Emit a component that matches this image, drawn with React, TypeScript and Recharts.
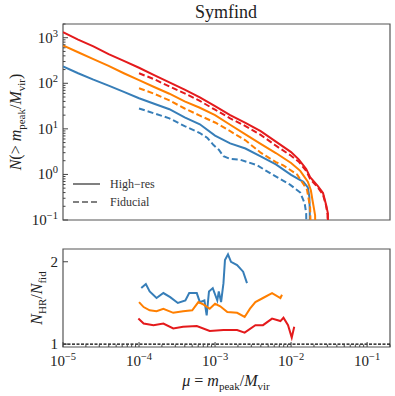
import React from 'react';
import { LineChart, Line, XAxis, YAxis, ReferenceArea, ReferenceLine } from 'recharts';

const RED = '#e41a1c';
const ORANGE = '#ff7f00';
const BLUE = '#377eb8';
const FONT = '"Liberation Serif", "DejaVu Serif", serif';

// cumulative counts, [mu, N]
const hrBlue: [number, number][] = [
  [1e-5, 234], [1.58e-5, 166], [2.51e-5, 120], [3.98e-5, 89], [6.31e-5, 65], [1e-4, 47],
  [1.58e-4, 35.5], [2.51e-4, 27], [3.98e-4, 17.8], [6.31e-4, 12.6], [1e-3, 7.1], [1.58e-3, 4.8],
  [2.51e-3, 3.7], [3.98e-3, 2.5], [6.31e-3, 1.66], [0.01, 0.98], [0.0145, 0.69], [0.0166, 0.52],
  [0.0174, 0.32], [0.0176, 0.16], [0.0178, 0.01],
];
const fidBlue: [number, number][] = [
  [1e-4, 28], [1.58e-4, 21.9], [2.51e-4, 17], [3.98e-4, 11.5], [6.31e-4, 8.1], [7.94e-4, 6.3],
  [9.55e-4, 4.4], [1.12e-3, 3.5], [1.29e-3, 2.5], [1.58e-3, 2.2], [2.14e-3, 2.1], [3.55e-3, 1.6],
  [5.75e-3, 0.98], [9.77e-3, 0.59], [0.0132, 0.4], [0.0151, 0.23], [0.0158, 0.14], [0.0162, 0.01],
];
const hrOrange: [number, number][] = [
  [1e-5, 676], [1.58e-5, 479], [2.51e-5, 339], [3.98e-5, 240], [6.31e-5, 166], [1e-4, 117],
  [1.58e-4, 83], [2.51e-4, 59], [3.98e-4, 40], [6.31e-4, 29], [1e-3, 20], [1.58e-3, 12.3],
  [2.51e-3, 7.6], [3.98e-3, 4.7], [6.31e-3, 2.95], [0.01, 1.78], [0.0132, 1.2], [0.0166, 0.69],
  [0.0182, 0.45], [0.0191, 0.275], [0.02, 0.178], [0.0207, 0.126], [0.0209, 0.01],
];
const fidOrange: [number, number][] = [
  [1e-4, 78], [1.58e-4, 59], [2.51e-4, 42], [3.98e-4, 28], [6.31e-4, 19.5], [1e-3, 13.8],
  [1.58e-3, 8.9], [2.51e-3, 5.6], [3.98e-3, 3.0], [6.31e-3, 1.86], [7.9e-3, 1.58], [0.012, 1.0],
  [0.0162, 0.46], [0.0178, 0.19], [0.0186, 0.01],
];
const hrRed: [number, number][] = [
  [1e-5, 1320], [1.58e-5, 912], [2.51e-5, 646], [3.98e-5, 437], [6.31e-5, 309], [1e-4, 219],
  [1.58e-4, 151], [2.51e-4, 105], [3.98e-4, 72.4], [6.31e-4, 49], [1e-3, 31.6], [1.58e-3, 20],
  [2.51e-3, 13.5], [3.98e-3, 8.9], [6.31e-3, 5.25], [0.01, 3.09], [0.0126, 2.14], [0.0158, 1.32],
  [0.0178, 0.87], [0.0224, 0.56], [0.0263, 0.39], [0.0288, 0.22], [0.0305, 0.14], [0.0309, 0.01],
];
const fidRed: [number, number][] = [
  [1e-4, 166], [1.58e-4, 123], [2.51e-4, 85], [3.98e-4, 60], [6.31e-4, 41], [1e-3, 26.3],
  [1.58e-3, 17], [2.51e-3, 11.5], [3.98e-3, 7.4], [6.31e-3, 4.27], [0.01, 2.57], [0.0126, 1.9],
  [0.0158, 1.2], [0.0178, 0.8], [0.0224, 0.52], [0.0263, 0.36], [0.0288, 0.21], [0.0302, 0.13],
  [0.0305, 0.01],
];

// ratio N_HR / N_fid, [mu, ratio]
const ratioBlue: [number, number][] = [
  [1.07e-4, 1.68], [1.23e-4, 1.73], [1.38e-4, 1.64], [1.7e-4, 1.56], [2.09e-4, 1.62], [2.57e-4, 1.57],
  [3.24e-4, 1.5], [4.07e-4, 1.53], [4.57e-4, 1.62], [5.75e-4, 1.62], [6.31e-4, 1.51], [7.24e-4, 1.53],
  [7.76e-4, 1.35], [8.32e-4, 1.64], [9.33e-4, 1.68], [1.07e-3, 1.53], [1.12e-3, 1.64], [1.2e-3, 1.51],
  [1.29e-3, 1.74], [1.35e-3, 2.02], [1.48e-3, 2.09], [1.62e-3, 2.0], [1.95e-3, 1.96], [2.34e-3, 1.88],
  [2.63e-3, 1.74],
];
const ratioOrange: [number, number][] = [
  [1e-4, 1.51], [1.15e-4, 1.45], [1.38e-4, 1.41], [1.7e-4, 1.4], [2.09e-4, 1.43], [2.82e-4, 1.38],
  [3.8e-4, 1.4], [5.01e-4, 1.41], [6.03e-4, 1.51], [7.08e-4, 1.48], [8.51e-4, 1.43], [1e-3, 1.49],
  [1.17e-3, 1.46], [1.45e-3, 1.39], [1.95e-3, 1.38], [2.45e-3, 1.33], [2.88e-3, 1.43], [3.39e-3, 1.51],
  [4.27e-3, 1.56], [5.62e-3, 1.62], [7.24e-3, 1.56], [7.59e-3, 1.6],
];
const ratioRed: [number, number][] = [
  [9.8e-5, 1.31], [1.15e-4, 1.25], [1.55e-4, 1.23], [2.09e-4, 1.25], [2.82e-4, 1.19], [3.8e-4, 1.21],
  [5.75e-4, 1.22], [8.51e-4, 1.16], [1.29e-3, 1.17], [1.95e-3, 1.17], [2.45e-3, 1.14], [3.39e-3, 1.23],
  [4.27e-3, 1.23], [5.62e-3, 1.31], [7.24e-3, 1.28], [7.94e-3, 1.32], [9.12e-3, 1.23], [1.02e-2, 1.08],
  [1.1e-2, 1.21],
];

const X_DOMAIN = [1e-5, 0.2];
const TOP_Y_DOMAIN = [0.1, 2000];
const BOT_Y_DOMAIN = [0.965, 2.155];
const BOT_Y_TICKS = [1, 2];

const logTicks = (lo: number, hi: number) => {
  const out: number[] = [];
  for (let d = Math.floor(Math.log10(lo)); d <= Math.ceil(Math.log10(hi)); d++) {
    for (let k = 1; k <= 9; k++) {
      const v = k * Math.pow(10, d);
      if (v >= lo * 0.999 && v <= hi * 1.001) out.push(v);
    }
  }
  return out;
};
const xTicks = logTicks(X_DOMAIN[0], X_DOMAIN[1]);
const yTicksTop = logTicks(TOP_Y_DOMAIN[0], TOP_Y_DOMAIN[1]);

const isDecade = (v: number) => Math.abs(Math.log10(v) - Math.round(Math.log10(v))) < 1e-6;
const expLabel = (v: number) => {
  const e = Math.round(Math.log10(v));
  return e < 0 ? `\u2212${-e}` : `${e}`;
};

const toPts = (arr: [number, number][]) => arr.map(([mu, n]) => ({ mu, n }));

const XTick = (props: any) => {
  const { x, y, payload, showLabel } = props;
  const major = isDecade(payload.value);
  return (
    <g>
      <line x1={x} x2={x} y1={y} y2={y - (major ? 5 : 2.5)} stroke="#444" strokeWidth={1} />
      {major && showLabel && (
        <text x={x} y={y + 19} textAnchor="middle" fontFamily={FONT} fontSize={15} fill="#222">
          10<tspan dy={-6} fontSize={10.5}>{expLabel(payload.value)}</tspan>
        </text>
      )}
    </g>
  );
};

const YLogTick = (props: any) => {
  const { x, y, payload } = props;
  const major = isDecade(payload.value);
  return (
    <g>
      <line x1={x} x2={x + (major ? 5 : 2.5)} y1={y} y2={y} stroke="#444" strokeWidth={1} />
      {major && (
        <text x={x - 5} y={y + 5} textAnchor="end" fontFamily={FONT} fontSize={15} fill="#222">
          10<tspan dy={-6} fontSize={10.5}>{expLabel(payload.value)}</tspan>
        </text>
      )}
    </g>
  );
};

const YLinTick = (props: any) => {
  const { x, y, payload } = props;
  return (
    <g>
      <line x1={x} x2={x + 5} y1={y} y2={y} stroke="#444" strokeWidth={1} />
      <text x={x - 5} y={y + 5} textAnchor="end" fontFamily={FONT} fontSize={15} fill="#222">
        {payload.value}
      </text>
    </g>
  );
};

const lineProps = { type: 'linear' as const, dot: false, strokeWidth: 2, isAnimationActive: false, dataKey: 'n' };
const DASH = '6 3';

export default function App() {
  return (
    <div style={{ position: 'absolute', left: 0, top: 0, width: 395, height: 396, background: '#fff' }}>
      <div style={{ position: 'absolute', left: 0, top: 0 }}>
        <LineChart width={395} height={230} margin={{ top: 24, right: 5, bottom: 10, left: 0 }}>
          <XAxis
            dataKey="mu" type="number" scale="log" domain={X_DOMAIN} allowDataOverflow
            ticks={xTicks} interval={0} height={0} tickSize={0} tickMargin={0}
            axisLine={false} tickLine={false} tick={(p: any) => <XTick {...p} showLabel={false} />}
          />
          <YAxis
            type="number" scale="log" domain={TOP_Y_DOMAIN} allowDataOverflow
            ticks={yTicksTop} interval={0} width={63} tickSize={0} tickMargin={0}
            axisLine={false} tickLine={false} tick={(p: any) => <YLogTick {...p} />}
          />
          <Line {...lineProps} data={toPts(hrBlue)} stroke={BLUE} name="hr-blue" />
          <Line {...lineProps} data={toPts(fidBlue)} stroke={BLUE} strokeDasharray={DASH} name="fid-blue" />
          <Line {...lineProps} data={toPts(hrOrange)} stroke={ORANGE} name="hr-orange" />
          <Line {...lineProps} data={toPts(fidOrange)} stroke={ORANGE} strokeDasharray={DASH} name="fid-orange" />
          <Line {...lineProps} data={toPts(fidRed)} stroke={RED} strokeDasharray={DASH} name="fid-red" />
          <Line {...lineProps} data={toPts(hrRed)} stroke={RED} name="hr-red" />
          <ReferenceArea
            x1={X_DOMAIN[0]} x2={X_DOMAIN[1]} y1={TOP_Y_DOMAIN[0]} y2={TOP_Y_DOMAIN[1]}
            fill="none" fillOpacity={0} stroke="#555" strokeWidth={1.2} ifOverflow="visible"
          />
          <text x={226} y={18} textAnchor="middle" fontFamily={FONT} fontSize={18} fill="#222">Symfind</text>
          <text
            x={21} y={122} transform="rotate(-90 21 122)" textAnchor="middle"
            fontFamily={FONT} fontSize={16} fill="#222"
          >
            <tspan fontStyle="italic">N</tspan>(&gt; <tspan fontStyle="italic">m</tspan>
            <tspan dy={4} fontSize={11}>peak</tspan>
            <tspan dy={-4}>/</tspan><tspan fontStyle="italic">M</tspan>
            <tspan dy={4} fontSize={11}>vir</tspan>
            <tspan dy={-4}>)</tspan>
          </text>
          <g>
            <line x1={73} x2={100} y1={184} y2={184} stroke="#808080" strokeWidth={2} />
            <text x={110} y={188} fontFamily={FONT} fontSize={12} fill="#333">High&#8722;res</text>
            <line x1={73} x2={100} y1={202} y2={202} stroke="#808080" strokeWidth={2} strokeDasharray={DASH} />
            <text x={110} y={206} fontFamily={FONT} fontSize={12} fill="#333">Fiducial</text>
          </g>
        </LineChart>
      </div>
      <div style={{ position: 'absolute', left: 0, top: 240 }}>
        <LineChart width={395} height={156} margin={{ top: 9, right: 5, bottom: 0, left: 0 }}>
          <XAxis
            dataKey="mu" type="number" scale="log" domain={X_DOMAIN} allowDataOverflow
            ticks={xTicks} interval={0} height={49} tickSize={0} tickMargin={0}
            axisLine={false} tickLine={false} tick={(p: any) => <XTick {...p} showLabel />}
          />
          <YAxis
            type="number" domain={BOT_Y_DOMAIN} allowDataOverflow
            ticks={BOT_Y_TICKS} interval={0} width={63} tickSize={0} tickMargin={0}
            axisLine={false} tickLine={false} tick={(p: any) => <YLinTick {...p} />}
          />
          <ReferenceLine y={1} stroke="#000" strokeWidth={1.2} strokeDasharray="3 1.5" />
          <Line {...lineProps} data={toPts(ratioBlue)} stroke={BLUE} name="ratio-blue" />
          <Line {...lineProps} data={toPts(ratioOrange)} stroke={ORANGE} name="ratio-orange" />
          <Line {...lineProps} data={toPts(ratioRed)} stroke={RED} name="ratio-red" />
          <ReferenceArea
            x1={X_DOMAIN[0]} x2={X_DOMAIN[1]} y1={BOT_Y_DOMAIN[0]} y2={BOT_Y_DOMAIN[1]}
            fill="none" fillOpacity={0} stroke="#555" strokeWidth={1.2} ifOverflow="visible"
          />
          <text
            x={42} y={58} transform="rotate(-90 42 58)" textAnchor="middle"
            fontFamily={FONT} fontSize={16} fill="#222"
          >
            <tspan fontStyle="italic">N</tspan>
            <tspan dy={4} fontSize={11}>HR</tspan>
            <tspan dy={-4}>/</tspan><tspan fontStyle="italic">N</tspan>
            <tspan dy={4} fontSize={11}>fid</tspan>
          </text>
          <text x={226} y={146} textAnchor="middle" fontFamily={FONT} fontSize={16} fill="#222">
            <tspan fontStyle="italic">μ</tspan> = <tspan fontStyle="italic">m</tspan>
            <tspan dy={4} fontSize={11}>peak</tspan>
            <tspan dy={-4}>/</tspan><tspan fontStyle="italic">M</tspan>
            <tspan dy={4} fontSize={11}>vir</tspan>
          </text>
        </LineChart>
      </div>
    </div>
  );
}
